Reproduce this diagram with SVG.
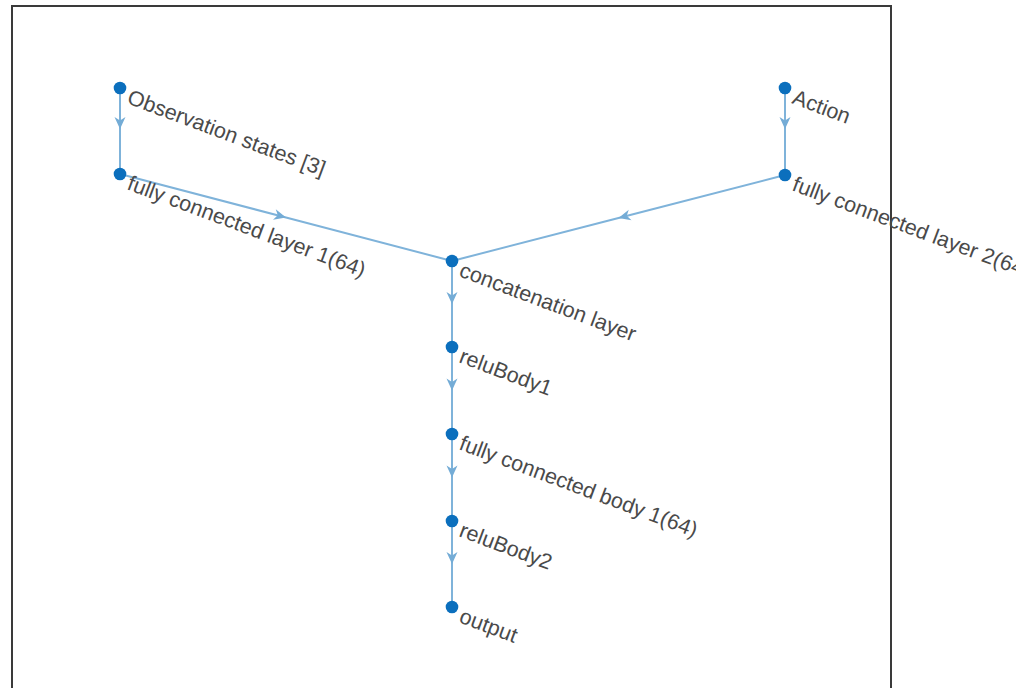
<svg xmlns="http://www.w3.org/2000/svg" width="1016" height="688" viewBox="0 0 1016 688">
<style>
.edge{fill:none;stroke:#7fb3da;stroke-width:2;marker-mid:url(#ah)}
.dot{fill:#0b6fbd}
.lbl{font-family:"Liberation Sans",Arial,sans-serif;font-size:21.5px;fill:#4a4a4a}
</style>
<defs>
<marker id="ah" viewBox="-14 -7 16 14" markerWidth="16" markerHeight="14" refX="0" refY="0" orient="auto" markerUnits="userSpaceOnUse">
<path d="M0,0 L-12,-5.5 L-8.5,0 L-12,5.5 Z" fill="#74acd6"/>
</marker>
</defs>
<rect width="1016" height="688" fill="#fff"/>
<path d="M12,690 V6 H891 V690" fill="none" stroke="#3a3a3a" stroke-width="2"/>
<g id="connectors">
<path class="edge" d="M120,88 L120,129 L120,174"/>
<path class="edge" d="M785,88 L785,129 L785,175"/>
<path class="edge" d="M120,174 L286,217.5 L452,261"/>
<path class="edge" d="M785,175 L618.5,218 L452,261"/>
<path class="edge" d="M452,261 L452,304 L452,347"/>
<path class="edge" d="M452,347 L452,390.5 L452,434"/>
<path class="edge" d="M452,434 L452,477.5 L452,521"/>
<path class="edge" d="M452,521 L452,564 L452,607"/>
</g>
<g id="n-obs" transform="translate(120,88)"><circle class="dot" r="6.3"/><text class="lbl" transform="rotate(20.5)" x="11" y="12">Observation states [3]</text></g>
<g id="n-fc1" transform="translate(120,174)"><circle class="dot" r="6.3"/><text class="lbl" transform="rotate(20.5)" x="11" y="12">fully connected layer 1(64)</text></g>
<g id="n-action" transform="translate(785,88)"><circle class="dot" r="6.3"/><text class="lbl" transform="rotate(20.5)" x="11" y="12">Action</text></g>
<g id="n-fc2" transform="translate(785,175)"><circle class="dot" r="6.3"/><text class="lbl" transform="rotate(20.5)" x="11" y="12">fully connected layer 2(64)</text></g>
<g id="n-concat" transform="translate(452,261)"><circle class="dot" r="6.3"/><text class="lbl" transform="rotate(20.5)" x="11" y="12">concatenation layer</text></g>
<g id="n-relu1" transform="translate(452,347)"><circle class="dot" r="6.3"/><text class="lbl" transform="rotate(20.5)" x="11" y="12">reluBody1</text></g>
<g id="n-fcb1" transform="translate(452,434)"><circle class="dot" r="6.3"/><text class="lbl" transform="rotate(20.5)" x="11" y="12">fully connected body 1(64)</text></g>
<g id="n-relu2" transform="translate(452,521)"><circle class="dot" r="6.3"/><text class="lbl" transform="rotate(20.5)" x="11" y="12">reluBody2</text></g>
<g id="n-output" transform="translate(452,607)"><circle class="dot" r="6.3"/><text class="lbl" transform="rotate(20.5)" x="11" y="12">output</text></g>
</svg>
